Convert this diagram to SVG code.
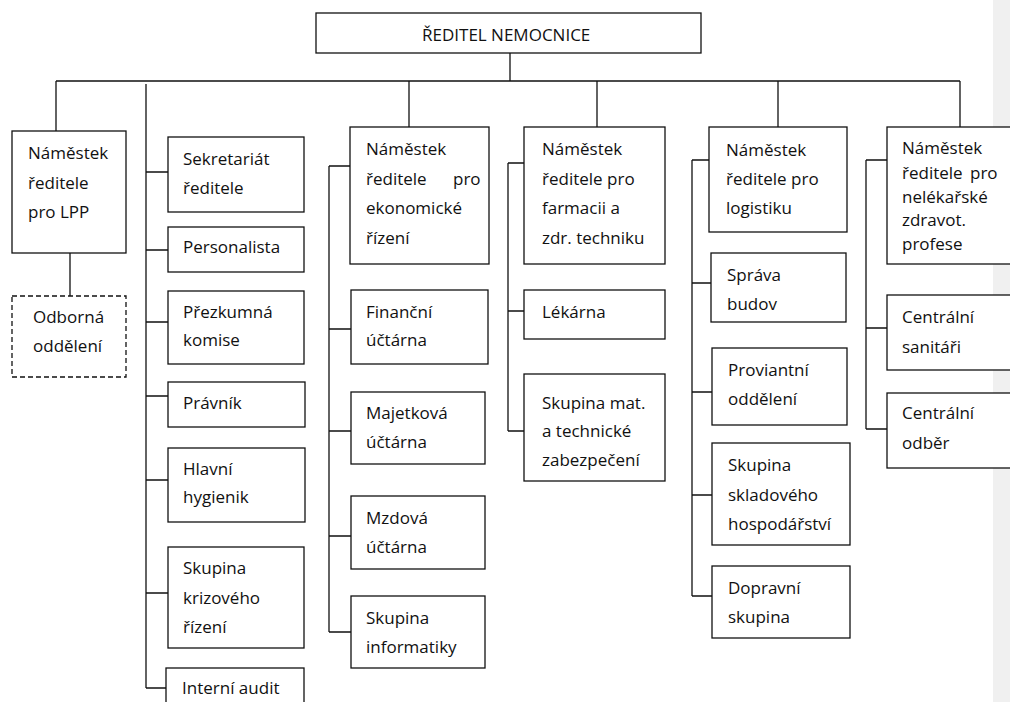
<svg xmlns="http://www.w3.org/2000/svg" width="1010" height="702" viewBox="0 0 1010 702">
<style>
.box{fill:#fff;stroke:#111;stroke-width:1.3}
.dash{fill:#fff;stroke:#111;stroke-width:1.3;stroke-dasharray:5 3}
.ln{fill:none;stroke:#111;stroke-width:1.3}
text{font-family:"Open Sans","Noto Sans","Liberation Sans",sans-serif;font-size:17px;fill:#111}
</style>
<rect x="0" y="0" width="1010" height="702" fill="#fff"/>
<rect x="993" y="0" width="17" height="702" fill="#f0f0f0"/>
<g id="connectors">
<path class="ln" d="M510 53V81M56 81H960M56 81V131M70 253V296M146 84V688"/>
<path class="ln" d="M146 172H168M146 250H168M146 322H168M146 396H168M146 480H168M146 593H168M146 688H166"/>
<path class="ln" d="M409 81V127M329 166V632M329 166H350M329 329H351M329 431H351M329 536H351M329 632H351"/>
<path class="ln" d="M597 81V127M508 163V431M508 163H524M508 311H524M508 431H524"/>
<path class="ln" d="M778 81V127M692 160V596M692 160H709M692 283H711M692 392H712M692 495H712M692 596H712"/>
<path class="ln" d="M960 81V127M866 160V429M866 160H887M866 328H887M866 429H887"/>
</g>
<g id="n-reditel"><rect class="box" x="316" y="13" width="385" height="40"/><text x="422" y="41">ŘEDITEL NEMOCNICE</text></g>
<g id="n-lpp"><rect class="box" x="12" y="131" width="114" height="122"/><text x="28" y="159">Náměstek</text><text x="28" y="189">ředitele</text><text x="28" y="218">pro LPP</text></g>
<g id="n-odborna"><rect class="dash" x="12" y="296" width="114" height="81"/><text x="33" y="323">Odborná</text><text x="33" y="352">oddělení</text></g>
<g id="n-sekretariat"><rect class="box" x="168" y="137" width="136" height="75"/><text x="183" y="165">Sekretariát</text><text x="183" y="194">ředitele</text></g>
<g id="n-personalista"><rect class="box" x="168" y="227" width="136" height="45"/><text x="183" y="253">Personalista</text></g>
<g id="n-prezkumna"><rect class="box" x="168" y="291" width="136" height="73"/><text x="183" y="318">Přezkumná</text><text x="183" y="346">komise</text></g>
<g id="n-pravnik"><rect class="box" x="168" y="382" width="137" height="45"/><text x="183" y="409">Právník</text></g>
<g id="n-hygienik"><rect class="box" x="168" y="448" width="137" height="74"/><text x="183" y="475">Hlavní</text><text x="183" y="503">hygienik</text></g>
<g id="n-krizove"><rect class="box" x="168" y="547" width="136" height="101"/><text x="183" y="574">Skupina</text><text x="183" y="604">krizového</text><text x="183" y="633">řízení</text></g>
<g id="n-audit"><rect class="box" x="166" y="668" width="138" height="45"/><text x="182" y="694">Interní audit</text></g>
<g id="n-ekonom"><rect class="box" x="350" y="127" width="139" height="137"/><text x="366" y="155">Náměstek</text><text x="366" y="185">ředitele</text><text x="453" y="185">pro</text><text x="366" y="214">ekonomické</text><text x="366" y="244">řízení</text></g>
<g id="n-financni"><rect class="box" x="351" y="290" width="137" height="74"/><text x="366" y="318">Finanční</text><text x="366" y="346">účtárna</text></g>
<g id="n-majetkova"><rect class="box" x="351" y="392" width="134" height="72"/><text x="366" y="419">Majetková</text><text x="366" y="448">účtárna</text></g>
<g id="n-mzdova"><rect class="box" x="351" y="496" width="134" height="73"/><text x="366" y="524">Mzdová</text><text x="366" y="553">účtárna</text></g>
<g id="n-informatiky"><rect class="box" x="351" y="596" width="134" height="72"/><text x="366" y="624">Skupina</text><text x="366" y="653">informatiky</text></g>
<g id="n-farmacie"><rect class="box" x="524" y="127" width="141" height="137"/><text x="542" y="155">Náměstek</text><text x="542" y="185">ředitele pro</text><text x="542" y="214">farmacii a</text><text x="542" y="244">zdr. techniku</text></g>
<g id="n-lekarna"><rect class="box" x="524" y="290" width="141" height="49"/><text x="542" y="318">Lékárna</text></g>
<g id="n-mat"><rect class="box" x="524" y="374" width="141" height="107"/><text x="542" y="409">Skupina mat.</text><text x="542" y="437">a technické</text><text x="542" y="466">zabezpečení</text></g>
<g id="n-logistika"><rect class="box" x="709" y="127" width="138" height="105"/><text x="726" y="156">Náměstek</text><text x="726" y="185">ředitele pro</text><text x="726" y="214">logistiku</text></g>
<g id="n-sprava"><rect class="box" x="711" y="253" width="135" height="69"/><text x="727" y="281">Správa</text><text x="727" y="310">budov</text></g>
<g id="n-proviant"><rect class="box" x="712" y="348" width="135" height="77"/><text x="728" y="376">Proviantní</text><text x="728" y="405">oddělení</text></g>
<g id="n-sklad"><rect class="box" x="712" y="443" width="138" height="102"/><text x="728" y="471">Skupina</text><text x="728" y="501">skladového</text><text x="728" y="530">hospodářství</text></g>
<g id="n-doprava"><rect class="box" x="712" y="566" width="138" height="72"/><text x="728" y="594">Dopravní</text><text x="728" y="623">skupina</text></g>
<g id="n-nelekarske"><rect class="box" x="887" y="127" width="130" height="137"/><text x="902" y="154">Náměstek</text><text x="902" y="179">ředitele</text><text x="970" y="179">pro</text><text x="902" y="203">nelékařské</text><text x="902" y="226">zdravot.</text><text x="902" y="250">profese</text></g>
<g id="n-sanitari"><rect class="box" x="887" y="295" width="130" height="75"/><text x="902" y="323">Centrální</text><text x="902" y="353">sanitáři</text></g>
<g id="n-odber"><rect class="box" x="887" y="393" width="130" height="75"/><text x="902" y="419">Centrální</text><text x="902" y="449">odběr</text></g>
</svg>
